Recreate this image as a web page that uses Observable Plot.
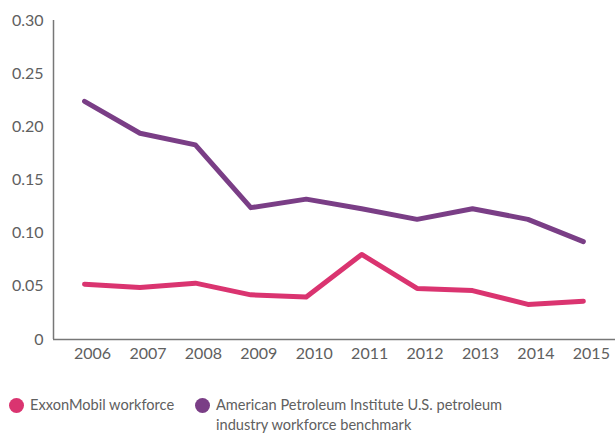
<!DOCTYPE html>
<html>
<head>
<meta charset="utf-8">
<script src="https://cdn.jsdelivr.net/npm/d3@7"></script>
<script src="https://cdn.jsdelivr.net/npm/@observablehq/plot@0.6"></script>
<style>
  body { margin: 0; background: #fff; font-family: Lato, sans-serif; }
  #chart svg { display: block; }
  .legend { position: relative; height: 65px; color: #606060; font-size: 14.6px; line-height: 20px; }
  .item { position: absolute; top: 25px; display: flex; align-items: flex-start; }
  .dot { width: 15px; height: 15px; border-radius: 50%; flex: none; margin-top: 3px; margin-right: 6px; }
</style>
</head>
<body>
<div id="chart"></div>
<div class="legend">
  <div class="item" style="left:9px"><span class="dot" style="background:#da3470"></span><span id="l1"></span></div>
  <div class="item" style="left:195px; width:410px"><span class="dot" style="background:#7a3e86"></span><span id="l2"></span></div>
</div>
<script>
const years = [2006, 2007, 2008, 2009, 2010, 2011, 2012, 2013, 2014, 2015];
const exxon = [0.052, 0.049, 0.053, 0.042, 0.040, 0.080, 0.048, 0.046, 0.033, 0.036];
const api = [0.224, 0.194, 0.183, 0.124, 0.132, 0.123, 0.113, 0.123, 0.113, 0.092];
const seriesNames = ["ExxonMobil workforce", "American Petroleum Institute U.S. petroleum industry workforce benchmark"];
const colors = ["#da3470", "#7a3e86"];
const yTicks = [0, 0.05, 0.10, 0.15, 0.20, 0.25, 0.30];

document.getElementById("l1").textContent = seriesNames[0];
document.getElementById("l2").innerHTML = "American Petroleum Institute U.S. petroleum<br>industry workforce benchmark";

const data = [];
years.forEach((y, i) => {
  data.push({year: y, value: exxon[i], series: seriesNames[0]});
  data.push({year: y, value: api[i], series: seriesNames[1]});
});

const xMin = 2005.44, xMax = 2015.58;

const chart = Plot.plot({
  width: 615,
  height: 370,
  marginTop: 20,
  marginBottom: 31,
  marginLeft: 53,
  marginRight: 0,
  style: {fontFamily: "Lato, sans-serif", fontSize: "16px", color: "#606060"},
  x: {domain: [xMin, xMax]},
  y: {domain: [0, 0.3]},
  color: {domain: seriesNames, range: colors},
  marks: [
    Plot.axisY({ticks: yTicks, tickSize: 0, tickPadding: 10, tickFormat: d => d === 0 ? "0" : d.toFixed(2), fill: "#606060", label: null, fontSize: 16}),
    Plot.axisX({ticks: years, tickSize: 0, tickPadding: 8, tickFormat: d => String(d), dx: 8, fill: "#606060", label: null, fontSize: 16}),
    Plot.ruleY([0], {stroke: "#777", strokeWidth: 1.5}),
    Plot.ruleX([xMin], {y1: 0, y2: 0.3, stroke: "#777", strokeWidth: 1.5}),
    Plot.line(data, {x: "year", y: "value", z: "series", stroke: "series", strokeWidth: 5, strokeLinejoin: "round", strokeLinecap: "round"})
  ]
});
document.getElementById("chart").append(chart);
</script>
</body>
</html>
